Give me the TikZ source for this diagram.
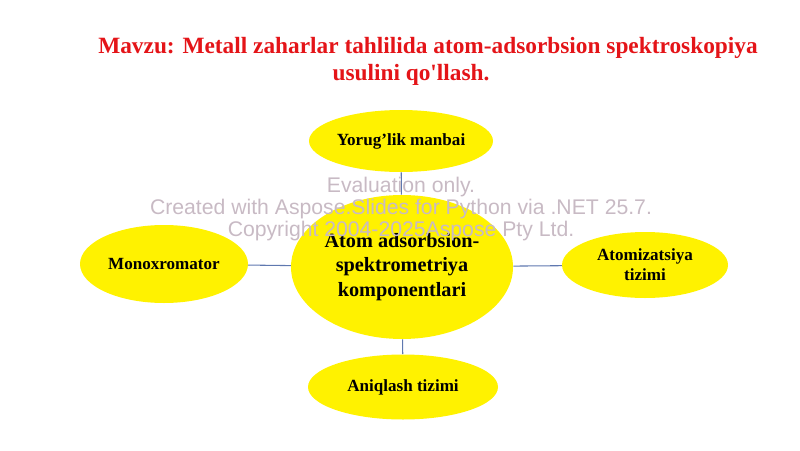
\documentclass[tikz,border=0pt]{standalone}
\usepackage{fontspec}
\setmainfont{Liberation Serif}
\newfontfamily\titlefont{Liberation Serif}
\newfontfamily\markfont{Liberation Sans}
\usepackage{tikz}
\usetikzlibrary{shapes.geometric}

\definecolor{titlered}{RGB}{228,20,24}
\definecolor{linkblue}{RGB}{95,120,175}
\definecolor{markgray}{RGB}{200,186,196}

\begin{document}
\begin{tikzpicture}[x=0.75pt,y=0.75pt,yscale=-1,xscale=1,
    part/.style={ellipse,fill=yellow,draw=none,inner sep=0pt,align=center,font=\bfseries\fontsize{12.8}{15}\selectfont},
    heading/.style={text=titlered,font=\titlefont\bfseries\fontsize{17.5}{20}\selectfont},
    link/.style={draw=linkblue,line width=0.8pt}]

    \useasboundingbox (0,0) rectangle (800,450);

    \node (title1) at (428,48) [heading] {Mavzu: Metall zaharlar tahlilida atom-adsorbsion spektroskopiya};
    \node (title2) at (411,75) [heading] {usulini qo'llash.};

    \node (mid) at (402,267) [part,minimum width=166.5pt,minimum height=108pt,font=\bfseries\fontsize{15.2}{18.5}\selectfont]
        {Atom adsorbsion-\\spektrometriya\\komponentlari};
    \node (top) at (401,141) [part,minimum width=138pt,minimum height=46.5pt] {Yorug’lik manbai};
    \node (left) at (164,264) [part,minimum width=126pt,minimum height=58.5pt] {Monoxromator};
    \node (right) at (645,265) [part,minimum width=124.5pt,minimum height=49.5pt] {Atomizatsiya\\tizimi};
    \node (bottom) at (403,387) [part,minimum width=142.5pt,minimum height=48.75pt] {Aniqlash tizimi};

    \draw [link] (top) -- (mid);
    \draw [link] (left) -- (mid);
    \draw [link] (mid) -- (right);
    \draw [link] (mid) -- (bottom);

    \node (mark) at (401,209) [align=center,text=markgray,font=\markfont\fontsize{15.9}{16.5}\selectfont]
        {Evaluation only.\\Created with Aspose.Slides for Python via .NET 25.7.\\Copyright 2004-2025Aspose Pty Ltd.};

\end{tikzpicture}
\end{document}
